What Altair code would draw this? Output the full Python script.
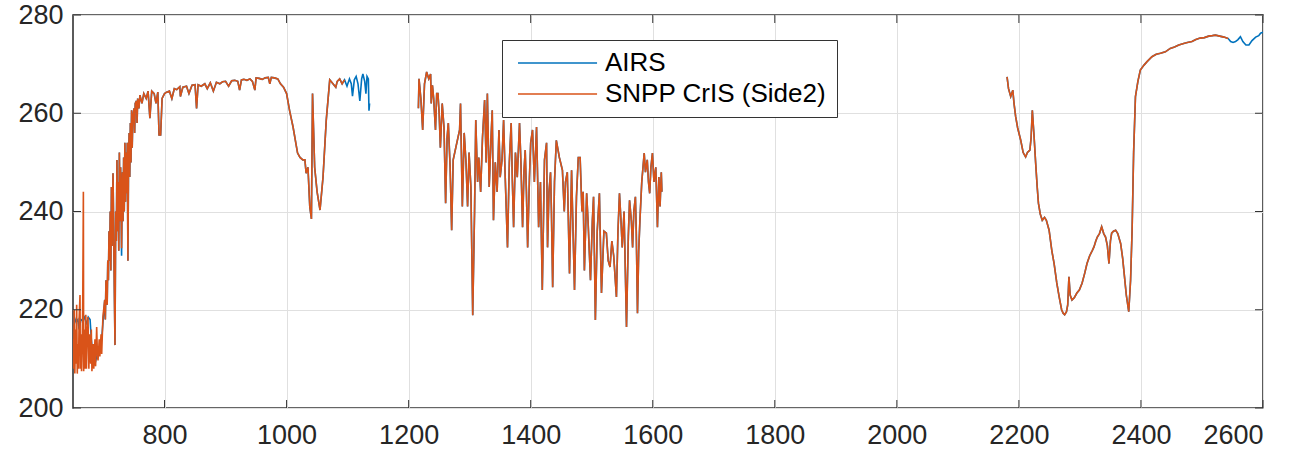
import altair as alt
import pandas as pd

# ---------------- data ----------------
series_names = ["AIRS", "SNPP CrIS (Side2)"]
series_colors = ["#0072BD", "#D95319"]

x_ticks = [800, 1000, 1200, 1400, 1600, 1800, 2000, 2200, 2400, 2600]
y_ticks = [200, 220, 240, 260, 280]

# CrIS long-wave band
cris_lw_wn = [650, 651, 652, 653, 654, 655, 656, 657, 658, 659, 660, 661.5, 662, 663, 664, 665, 666, 667, 667.5,
              669, 670, 671, 672, 673, 674.6, 676, 677, 679, 680, 681, 683, 684, 686, 687, 688.8, 690, 691, 693,
              694, 696, 697, 699,
              702, 703, 704, 706, 707, 708, 709, 710, 711, 712, 713, 714, 715.6, 717, 718.8, 720, 721, 722, 723,
              724, 725, 726, 727, 728, 729.6, 731, 732, 733, 734, 735, 736, 737, 738, 739, 740, 741, 742, 743,
              744, 745, 746, 747, 748, 750, 751, 752, 754, 755, 756, 758, 759.7,
              763, 766, 770, 773, 776, 779, 783, 786, 789, 791, 793.6, 796, 800, 803.4, 808, 812, 816, 820,
              825, 826, 830, 836, 840, 845, 850, 852.5, 855, 860, 866, 870, 875, 880, 885, 890.6, 895, 900,
              905, 910, 915, 920, 923, 926, 930, 935, 940, 944, 948, 950, 955, 960, 965, 970, 972.5, 975,
              980, 985.6, 990, 995, 1000, 1005, 1010.6, 1015, 1018, 1022, 1026.6, 1030, 1032, 1035, 1038,
              1040.7, 1042.5, 1046, 1050, 1054.8, 1059.7, 1065, 1070.7, 1076, 1080.6, 1083, 1087, 1091, 1095]
cris_lw_bt = [214, 208, 220, 207, 216, 209, 221, 207, 213, 208, 218, 223, 208, 215, 207.5, 212, 222, 244, 207.5,
              216, 208, 219, 208, 214, 218.5, 208, 215, 209, 216, 207.5, 213, 208, 214, 208.5, 216.5, 211, 209.7, 214,
              210.5, 215, 211, 218.5,
              222, 218, 226, 221, 230, 226, 236, 230, 240, 228, 245, 233, 247.8, 232, 212.8, 240, 234, 250.5, 236,
              246, 232, 252, 238, 249, 232.5, 248, 238, 251, 240, 254, 242, 252, 243.7, 254, 230, 250, 256, 247,
              258, 250, 260.6, 253, 259, 261, 256, 262, 262.5, 258, 263, 261, 263.7,
              262, 264, 263, 264.5, 259, 264.5, 264, 262, 264.3, 255.6, 255.6, 263, 264, 264.3, 264.5, 263, 265, 264.8,
              265.4, 263.4, 265.3, 265.5, 264, 265.7, 265.8, 261, 265.8, 265.5, 266, 265, 266.2, 264.5, 266.3, 266, 266.4, 266.5,
              265.5, 266.6, 266.7, 266.5, 264.7, 266.8, 266.9, 266.7, 267, 266.5, 264.7, 267.2, 267.1, 266.9, 267.2, 267.3, 266, 267.3,
              267.2, 267, 266, 265.3, 264, 260.5, 257.2, 254, 251.9, 251, 250.5, 250.5, 247.8, 249, 241,
              238.5, 264, 249, 244, 240.3, 247, 258.6, 266.8, 266, 265.3, 266.5, 267, 266, 266.8]

# CrIS mid-wave band
cris_mw_wn = [1216, 1217, 1220, 1223, 1226, 1229.5, 1233, 1236, 1237, 1239, 1241, 1244, 1246, 1248, 1250, 1252,
              1255, 1258, 1260.6, 1263, 1265, 1268, 1270.5, 1273, 1283.5, 1285, 1288, 1291, 1294, 1296.6, 1299,
              1302, 1305, 1308, 1310, 1313, 1315, 1318, 1321, 1324.5, 1327, 1329, 1332, 1335, 1337, 1339, 1342,
              1345, 1348, 1350, 1353, 1355.6, 1358, 1362, 1365, 1368, 1370, 1372, 1375, 1378, 1381.7, 1384,
              1386.7, 1389, 1391, 1393, 1395, 1398, 1400, 1403, 1406, 1409.6, 1411, 1413, 1416, 1419, 1422.6,
              1426, 1427.6, 1430, 1432.5, 1434, 1436, 1439, 1442, 1447, 1452, 1455, 1457, 1460, 1463.6, 1467,
              1469, 1471.8, 1475, 1478, 1481, 1484, 1486, 1488, 1491.7, 1494, 1498, 1501, 1503, 1506, 1509,
              1512.6, 1514, 1516, 1520, 1524, 1527, 1530, 1533, 1536, 1540.5, 1543, 1545.5, 1548, 1550, 1553,
              1557, 1560, 1562, 1565, 1567, 1569, 1571.6, 1573, 1575, 1577, 1579, 1582, 1586, 1588, 1591, 1593,
              1595, 1597, 1599.5, 1602, 1605, 1607.7, 1610, 1612, 1614, 1615]
cris_mw_bt = [261, 267, 263, 256.6, 266, 268.4, 267, 268, 262, 265.7, 263, 256.6, 264, 264, 260, 253,
              262, 257, 241.7, 255, 258, 249, 236.2, 250.5, 256.6, 262, 241, 256, 250, 241, 252,
              245, 218.9, 240, 258.6, 246, 251, 244, 255, 262.7, 250, 264, 245, 255, 260.6, 238.2, 250,
              244, 256.6, 247, 250.5, 258.6, 248, 232.7, 250, 258, 246, 236.8, 252, 247, 258, 250,
              236.8, 248, 252.5, 244, 232.7, 247, 254, 256.6, 246, 257.2, 249, 236.8, 246, 224, 250.5,
              254, 232.7, 244, 248, 240, 224.6, 246, 254.5, 251, 248.4, 240, 246, 248, 227.4, 248.4,
              238, 224, 243, 251, 251, 240, 244, 228, 243.7, 238, 226, 238, 243, 217.9, 236,
              243.7, 235, 223.4, 236, 235.6, 230, 228.7, 234, 231, 222.6, 236, 243.7, 238, 232.7, 240,
              216.5, 235, 242.3, 238, 232.7, 240, 243, 236, 219.3, 232, 238.2, 246, 251.9, 248, 250.5, 246,
              243.7, 249, 251.9, 246, 249, 236.8, 247, 241, 248, 244]

# CrIS short-wave band
cris_sw_wn = [2180.6, 2183, 2186.6, 2190, 2192, 2194.7, 2198, 2203, 2207, 2211, 2214, 2218, 2220, 2222, 2225,
              2227.5, 2230, 2232, 2235, 2238.3, 2242, 2245, 2249.5, 2254, 2257.7, 2262, 2266, 2270, 2272.5, 2275,
              2278, 2280, 2282, 2284, 2287, 2291, 2295, 2299, 2303.5, 2308, 2311.6, 2316, 2320, 2323, 2326,
              2328.5, 2332, 2335.6, 2339, 2342, 2345, 2347.6, 2350, 2352, 2355, 2358.5, 2362, 2366.7, 2370,
              2372, 2376, 2380, 2383, 2385.5, 2388, 2391, 2395, 2399, 2405, 2410, 2418, 2425, 2432, 2440, 2448,
              2455, 2462, 2470, 2476, 2483.6, 2490, 2497, 2504, 2511, 2517, 2522, 2529, 2536, 2543]
cris_sw_bt = [267.4, 265, 263.4, 264.7, 262, 259.3, 257, 254.5, 252, 251.1, 252, 252.5, 255, 260.6, 255,
              249.8, 245, 241.7, 239.5, 238.2, 238.8, 238.2, 236.2, 232, 229.4, 225.5, 222.6, 220, 219.3, 219,
              219.6, 221, 226.7, 223, 222, 222.5, 223.4, 224, 225.4, 227.5, 229.4, 231, 232, 232.8, 234,
              234.8, 235.5, 236.9, 235.5, 234.8, 233, 229.4, 234, 235.6, 236, 236.2, 235.5, 233.5, 230.5,
              228, 223, 219.6, 226, 236.2, 252, 263.4, 266.5, 268.8, 269.8, 270.5, 271.5, 272, 272.2, 272.5, 273.2,
              273.5, 273.9, 274.2, 274.4, 274.6, 275, 275.3, 275.4, 275.7, 275.8, 275.9, 275.7, 275.5, 275.2]

# AIRS: own start of the long-wave band, then it lies under CrIS
airs_lw_start_wn = [650, 652, 655, 658, 660, 663, 666, 669, 672, 675, 678, 680, 683, 686, 690, 694, 697]
airs_lw_start_bt = [217, 218.5, 217.5, 218, 216, 218, 217.8, 218.5, 217, 218.5, 218, 214, 210, 209, 211, 212, 214]
airs_lw_dip_wn = [729.6]
airs_lw_dip_bt = [231]
# AIRS beyond the CrIS long-wave band end
airs_lw_end_wn = [1099, 1103, 1106, 1108, 1111, 1114, 1117, 1120, 1123, 1125, 1128, 1130, 1131.8, 1134, 1135, 1136]
airs_lw_end_bt = [265.5, 267, 266, 263.5, 266.8, 267.5, 266, 262.5, 267, 268, 266.5, 264, 267.5, 267, 260.5, 262]
# AIRS beyond the CrIS short-wave band end
airs_sw_end_wn = [2547, 2551, 2555, 2559, 2563, 2567, 2572, 2577, 2582, 2588, 2593, 2596, 2600]
airs_sw_end_bt = [274.6, 274.4, 274.6, 275, 275.6, 274.6, 273.9, 273.9, 274.8, 275.5, 275.8, 276.3, 276.5]

# ---------------- table ----------------
rows = []


def add(series, seg, wn, bt):
    for w, b in zip(wn, bt):
        rows.append({"series": series, "seg": series + seg, "wn": w, "bt": b})


lw_pairs = [(w, b) for w, b in zip(cris_lw_wn, cris_lw_bt) if w >= 700 and w != 729.6]
lw_pairs += list(zip(airs_lw_dip_wn, airs_lw_dip_bt))
lw_pairs = sorted(lw_pairs)
add("AIRS", "lw", airs_lw_start_wn + [p[0] for p in lw_pairs] + airs_lw_end_wn,
    airs_lw_start_bt + [p[1] for p in lw_pairs] + airs_lw_end_bt)
add("AIRS", "mw", cris_mw_wn, cris_mw_bt)
add("AIRS", "sw", cris_sw_wn + airs_sw_end_wn, cris_sw_bt + airs_sw_end_bt)
add("SNPP CrIS (Side2)", "lw", cris_lw_wn, cris_lw_bt)
add("SNPP CrIS (Side2)", "mw", cris_mw_wn, cris_mw_bt)
add("SNPP CrIS (Side2)", "sw", cris_sw_wn, cris_sw_bt)
df = pd.DataFrame(rows)

W, H = 1190, 393
AX = "#333333"
FONT = "Liberation Sans"

x_scale = alt.Scale(domain=[650, 2600], nice=False, zero=False)
y_scale = alt.Scale(domain=[200, 280], nice=False, zero=False)
x_axis = alt.Axis(values=x_ticks, title=None, format="d", labelPadding=14)
y_axis = alt.Axis(values=y_ticks, title=None, format="d", labelPadding=10)

lines = alt.Chart(df).mark_line(strokeWidth=1.6, clip=True).encode(
    x=alt.X("wn:Q", scale=x_scale, axis=x_axis),
    y=alt.Y("bt:Q", scale=y_scale, axis=y_axis),
    color=alt.Color("series:N",
                    scale=alt.Scale(domain=series_names, range=series_colors),
                    legend=alt.Legend(title=None, orient="none", legendX=429, legendY=25,
                                      symbolType="M-0.886,0H9.114", symbolSize=250,
                                      symbolStrokeWidth=1.6,
                                      labelFont=FONT, labelFontSize=26, labelColor="#000000",
                                      labelLimit=500, labelOffset=67, fillColor="white",
                                      strokeColor=AX, padding=10, rowPadding=5)),
    detail="seg:N",
)

xt = pd.DataFrame({"v": x_ticks})
yt = pd.DataFrame({"v": y_ticks})
TL = 8
bottom_ticks = alt.Chart(xt).mark_rule(color=AX, strokeWidth=1).encode(
    x=alt.X("v:Q", scale=x_scale, axis=x_axis), y=alt.value(H), y2=alt.value(H - TL))
top_ticks = alt.Chart(xt).mark_rule(color=AX, strokeWidth=1).encode(
    x=alt.X("v:Q", scale=x_scale, axis=x_axis), y=alt.value(0), y2=alt.value(TL))
left_ticks = alt.Chart(yt).mark_rule(color=AX, strokeWidth=1).encode(
    y=alt.Y("v:Q", scale=y_scale, axis=y_axis), x=alt.value(0), x2=alt.value(TL))
right_ticks = alt.Chart(yt).mark_rule(color=AX, strokeWidth=1).encode(
    y=alt.Y("v:Q", scale=y_scale, axis=y_axis), x=alt.value(W), x2=alt.value(W - TL))

chart = alt.layer(lines, bottom_ticks, top_ticks, left_ticks, right_ticks).properties(
    width=W, height=H,
    padding={"left": 73, "top": 15, "right": 38, "bottom": 46},
    autosize=alt.AutoSizeParams(type="none"),
    background="white",
).configure_view(
    stroke=AX, strokeWidth=1.6
).configure_axis(
    labelFont=FONT, labelFontSize=27, labelColor="#262626",
    ticks=False, domain=False, grid=True, gridColor="#e0e0e0", gridWidth=1,
)

chart.save("out.html", embed_options={"renderer": "svg", "actions": False})
